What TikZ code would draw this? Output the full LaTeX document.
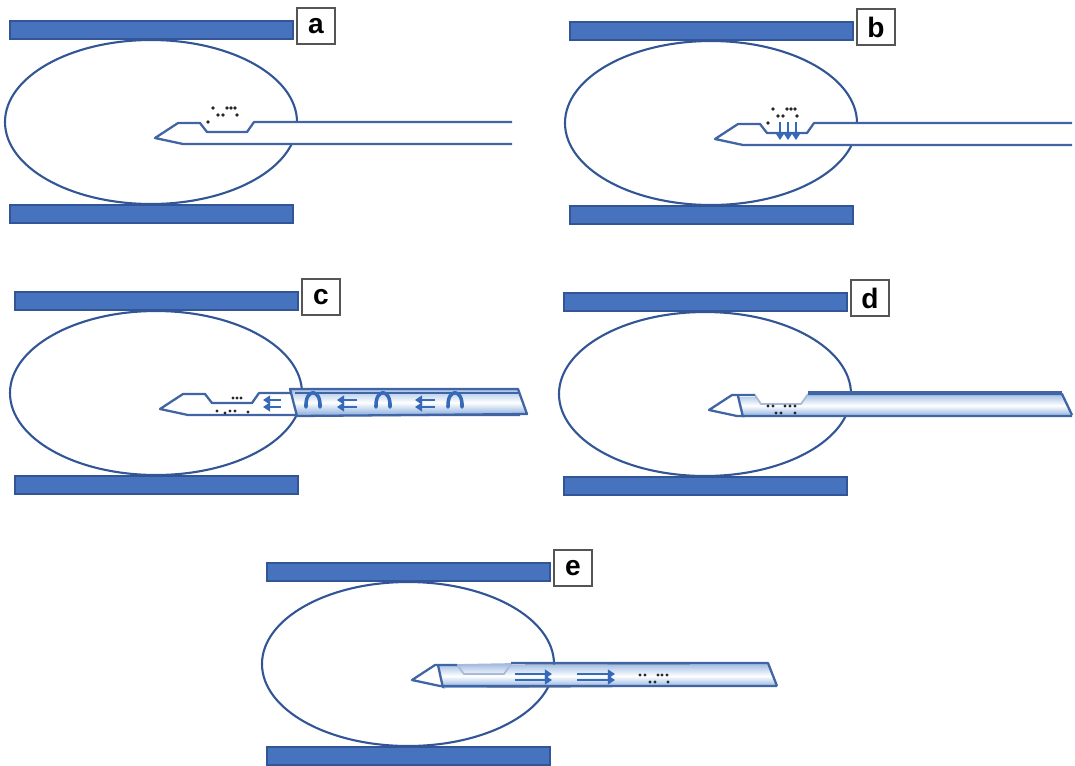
\documentclass[tikz,border=0pt]{standalone}
\usepackage{fontspec}
\setmainfont{Liberation Sans}
\usepackage{xcolor}
\usetikzlibrary{arrows.meta}

\definecolor{plateblue}{RGB}{70,114,190}
\definecolor{edgeblue}{RGB}{50,85,150}
\definecolor{needleblue}{RGB}{65,100,165}
\definecolor{sheathblue}{RGB}{110,155,215}
\definecolor{flowblue}{RGB}{55,105,185}
\definecolor{taggray}{RGB}{85,85,85}

\begin{document}
\begin{tikzpicture}[x=0.02cm, y=-0.02cm,
  tissue/.style={draw=edgeblue, line width=1.2pt},
  plate/.style={fill=plateblue, draw=edgeblue, line width=0.6pt},
  tag/.style={draw=taggray, fill=white, line width=1.1pt, minimum width=0.76cm, minimum height=0.72cm, inner sep=0pt, font=\fontsize{16}{18}\selectfont\bfseries},
  needle/.style={draw=needleblue, line width=1.3pt, line join=round},
  notch/.style={draw=needleblue!45, line width=1pt, line join=round},
  sheath/.style={top color=sheathblue!65, bottom color=sheathblue!85, middle color=white},
  flow/.style={draw=flowblue, line width=1.3pt, -{Triangle[width=5pt,length=4pt]}},
  arch/.style={draw=flowblue, line width=2pt, line cap=round},
  cell/.style={fill=black!85},
]
\useasboundingbox (0,0) rectangle (1075,765);

% plates, lesion and panel letter
\foreach \lbl/\dx/\dy in {a/0/0, b/560/1, c/5/271, d/554/272, e/257/542} {
  \begin{scope}[shift={(\dx,\dy)}]
    \draw[tissue] (151,122) ellipse [x radius=146, y radius=82];
    \draw[plate] (10,21) rectangle (293,39);
    \draw[plate] (10,205) rectangle (293,223);
    \node[tag] (tag-\lbl) at (316,26) {\lbl};
  \end{scope}
}

% a, b: open needle in the lesion
\foreach \dx/\dy in {0/0, 560/1} {
  \begin{scope}[shift={(\dx,\dy)}]
    \fill[white] (155,138) -- (178,123) -- (200,123) -- (207,132) -- (247,132) -- (254,122) -- (512,122) -- (512,144) -- (183,144) -- cycle;
    \draw[needle] (512,122) -- (254,122) -- (247,132) -- (207,132) -- (200,123) -- (178,123) -- (155,138) -- (183,144) -- (512,144);
    \foreach \p in {(213,108),(218,115),(223,115),(227,108),(231,108),(235,108),(237,115),(208,122)}
      \fill[cell] \p circle [radius=1.8];
  \end{scope}
}

% b: suction into the notch
\begin{scope}[shift={(560,1)}]
  \foreach \x in {220,228,236}
    \draw[flow] (\x,121) -- (\x,139);
\end{scope}

% c: cutting cannula advancing
\begin{scope}[shift={(5,271)}]
  \fill[white] (155,138) -- (178,123) -- (200,123) -- (207,132) -- (247,132) -- (254,122) -- (515,122) -- (515,144) -- (183,144) -- cycle;
  \draw[needle] (515,122) -- (254,122) -- (247,132) -- (207,132) -- (200,123) -- (178,123) -- (155,138) -- (183,144) -- (515,144);
  \draw[needle, sheath] (285,118) -- (513,118) -- (522,143) -- (292,145) -- cycle;
  \draw[needle] (290,122) -- (514,122);
  \foreach \xa/\xb in {258/276, 332/352, 410/430} {
    \draw[flow] (\xb,129) -- (\xa,129);
    \draw[flow] (\xb,136) -- (\xa,136);
  }
  \foreach \cx in {308,378,450}
    \draw[arch] ({\cx-7},136) .. controls ({\cx-8},117) and ({\cx+8},117) .. ({\cx+7},136);
  \foreach \p in {(228,127),(232,127),(236,127),(212,140),(220,142),(225,140),(230,140),(243,141)}
    \fill[cell] \p circle [radius=1.6];
\end{scope}

% d: notch closed by the cannula
\begin{scope}[shift={(554,272)}]
  \fill[white] (155,138) -- (178,123) -- (518,122) -- (518,144) -- (183,144) -- cycle;
  \fill[sheath] (184,125) -- (201,125) -- (207,132) -- (247,132) -- (254,122) -- (508,122) -- (518,143) -- (189,145) -- cycle;
  \draw[notch] (201,123) -- (207,132) -- (247,132) -- (254,122);
  \draw[needle] (201,123) -- (178,123) -- (155,138) -- (183,144) -- (518,144);
  \draw[needle] (254,122) -- (508,122) -- (518,143);
  \draw[needle] (254,120) -- (508,120);
  \draw[needle] (184,124) -- (189,145);
  \foreach \p in {(214,134),(219,134),(222,141),(227,141),(231,134),(236,134),(241,134),(241,141)}
    \fill[cell] \p circle [radius=1.6];
\end{scope}

% e: sample carried out of the needle
\begin{scope}[shift={(257,542)}]
  \fill[white] (155,138) -- (178,123) -- (520,122) -- (520,144) -- (183,144) -- cycle;
  \fill[sheath] (181,123) -- (511,122) -- (520,144) -- (186,146) -- cycle;
  \draw[notch] (200,123) -- (207,132) -- (247,132) -- (254,122);
  \draw[notch] (200,123) -- (254,122);
  \draw[needle] (200,123) -- (178,123) -- (155,138) -- (183,144) -- (520,144);
  \draw[needle] (254,121) -- (511,121) -- (520,144);
  \draw[needle] (181,123) -- (186,146);
  \foreach \xa/\xb in {258/295, 320/358} {
    \draw[flow] (\xa,132) -- (\xb,132);
    \draw[flow] (\xa,138) -- (\xb,138);
  }
  \foreach \p in {(383,133),(388,133),(393,140),(398,140),(401,133),(405,133),(410,133),(411,140)}
    \fill[cell] \p circle [radius=1.6];
\end{scope}

\end{tikzpicture}
\end{document}
